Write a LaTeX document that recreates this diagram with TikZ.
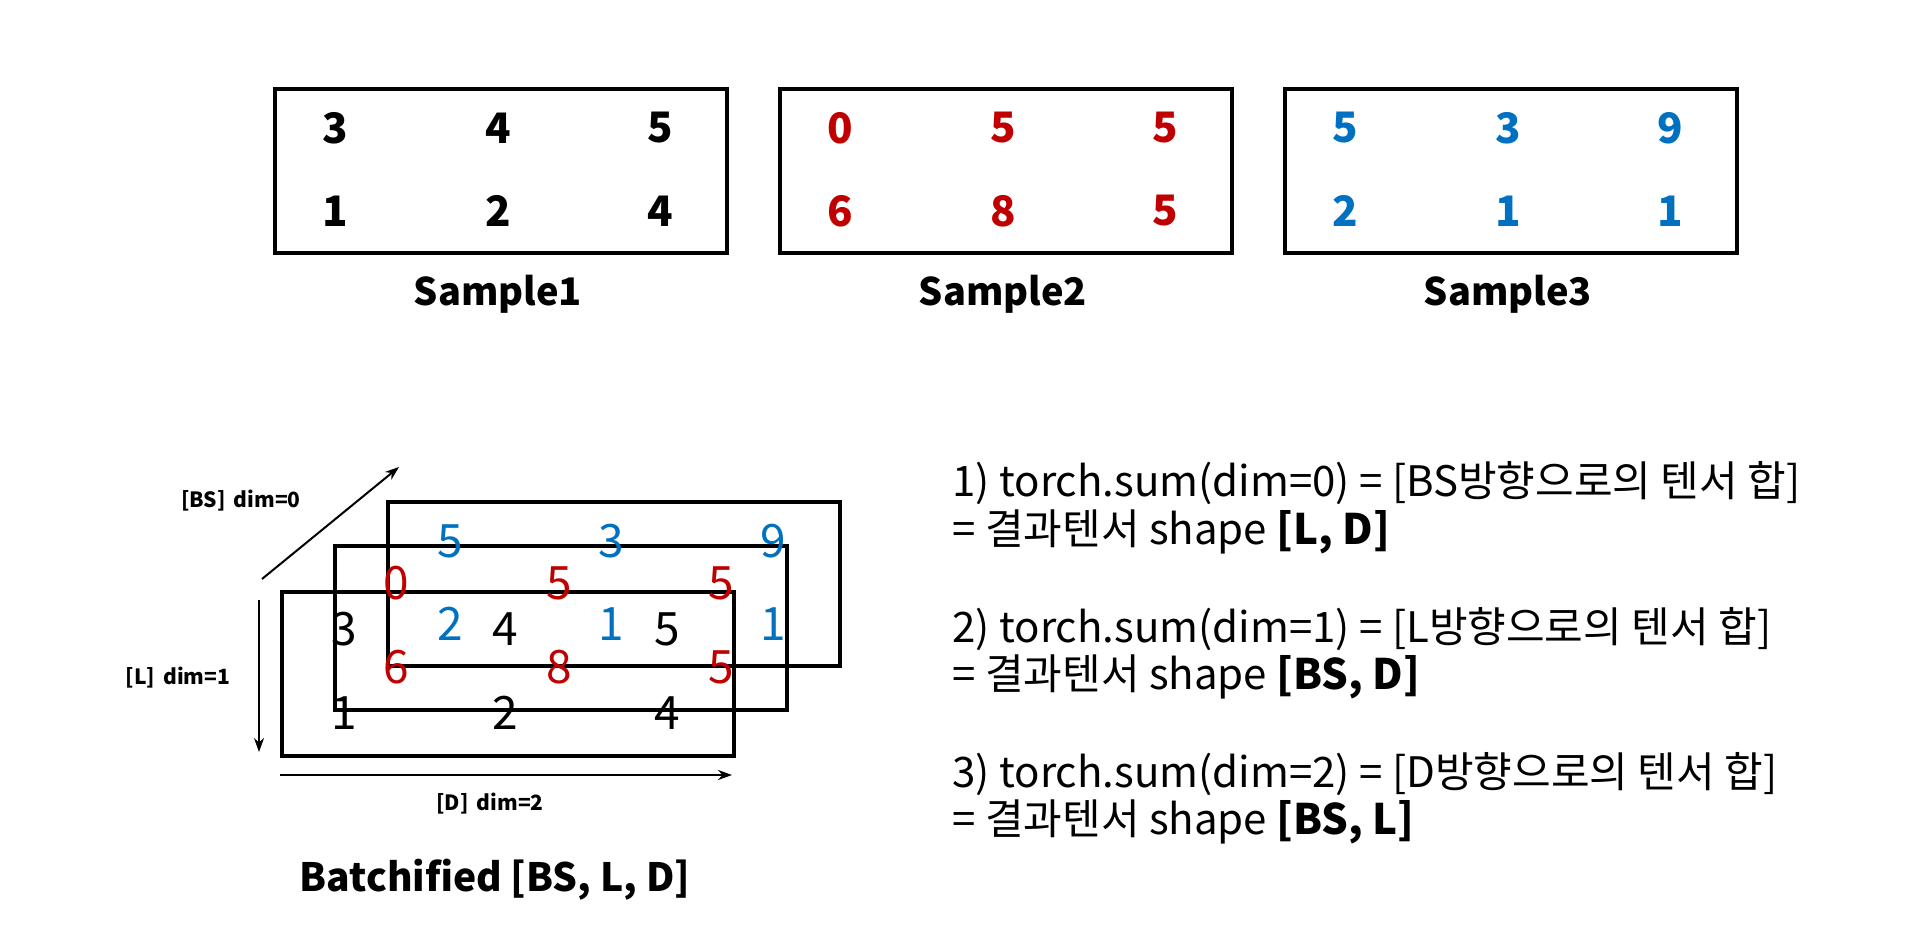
\documentclass[tikz,border=0pt]{standalone}
\usepackage{fontspec}
\setmainfont{Noto Sans CJK KR}
\usetikzlibrary{arrows.meta}
\definecolor{cred}{HTML}{C00000}
\definecolor{cblue}{HTML}{0070C0}
\begin{document}
\begin{tikzpicture}[x=0.5pt,y=-0.5pt,
  box/.style={draw,line width=2pt,inner sep=0pt},
  snum/.style={font=\fontsize{21}{24}\selectfont\bfseries},
  bnum/.style={font=\fontsize{23}{26}\selectfont},
  slabel/.style={font=\fontsize{19}{23}\selectfont\bfseries},
  axlabel/.style={font=\fontsize{10.5}{13}\selectfont\bfseries},
  axarrow/.style={line width=1pt,-{Stealth[length=7pt,width=5pt]}},
  txt/.style={anchor=west,inner sep=0pt,font=\fontsize{21}{24}\selectfont}]
\useasboundingbox (0,0) rectangle (1927,947);
% samples
\foreach \i/\x/\c/\a/\b/\cc/\d/\e/\f in {1/273/black/3/4/5/1/2/4, 2/778/cred/0/5/5/6/8/5, 3/1283/cblue/5/3/9/2/1/1}{
  \node[box,minimum width=226pt,minimum height=82pt,anchor=north west] (s\i) at (\x,87) {};
  \node[snum,text=\c] (s\i a) at (\x+62,128) {\a};
  \node[snum,text=\c] (s\i b) at (\x+225,128) {\b};
  \node[snum,text=\c] (s\i c) at (\x+387,128) {\cc};
  \node[snum,text=\c] (s\i d) at (\x+62,211) {\d};
  \node[snum,text=\c] (s\i e) at (\x+225,211) {\e};
  \node[snum,text=\c] (s\i f) at (\x+387,211) {\f};
  \node[slabel] (l\i) at (\x+225,294) {Sample\i};
}
% batched boxes
\node[box,minimum width=226pt,minimum height=82pt,anchor=north west] (bb) at (386,500) {};
\node[box,minimum width=226pt,minimum height=82pt,anchor=north west] (bm) at (333,544) {};
\node[box,minimum width=226pt,minimum height=82pt,anchor=north west] (bf) at (280,590) {};
% blue numbers
\node[bnum,text=cblue] (u1) at (450,541) {5};
\node[bnum,text=cblue] (u2) at (611,541) {3};
\node[bnum,text=cblue] (u3) at (773,541) {9};
\node[bnum,text=cblue] (u4) at (450,624) {2};
\node[bnum,text=cblue] (u5) at (611,624) {1};
\node[bnum,text=cblue] (u6) at (773,624) {1};
% red numbers
\node[bnum,text=cred] (r1) at (396,583) {0};
\node[bnum,text=cred] (r2) at (559,583) {5};
\node[bnum,text=cred] (r3) at (721,583) {5};
\node[bnum,text=cred] (r4) at (396,667) {6};
\node[bnum,text=cred] (r5) at (559,667) {8};
\node[bnum,text=cred] (r6) at (721,667) {5};
% black numbers
\node[bnum] (k1) at (344,629) {3};
\node[bnum] (k2) at (505,629) {4};
\node[bnum] (k3) at (667,629) {5};
\node[bnum] (k4) at (344,713) {1};
\node[bnum] (k5) at (505,713) {2};
\node[bnum] (k6) at (667,713) {4};
% axes
\coordinate (bs0) at (262,579);
\coordinate (bs1) at (399,467);
\coordinate (l0) at (259,600);
\coordinate (l1) at (259,752);
\coordinate (d0) at (280,775);
\coordinate (d1) at (732,775);
\draw[axarrow] (bs0) -- (bs1);
\draw[axarrow] (l0) -- (l1);
\draw[axarrow] (d0) -- (d1);
\node[axlabel] (bsl) at (241,501) {[BS]\, dim=0};
\node[axlabel] (ll) at (178,678) {[L]\, dim=1};
\node[axlabel] (dl) at (490,804) {[D]\, dim=2};
\node[slabel,font=\fontsize{19.5}{23}\selectfont\bfseries] (bl) at (495,880) {Batchified [BS, L, D]};
% right text
\node[txt] (t1) at (952,483) {1) torch.sum(dim=0) = [BS방향으로의 텐서 합]};
\node[txt] (t2) at (952,532) {= 결과텐서 shape \textbf{[L, D]}};
\node[txt] (t3) at (952,629) {2) torch.sum(dim=1) = [L방향으로의 텐서 합]};
\node[txt] (t4) at (952,677) {= 결과텐서 shape \textbf{[BS, D]}};
\node[txt] (t5) at (952,774) {3) torch.sum(dim=2) = [D방향으로의 텐서 합]};
\node[txt] (t6) at (952,822) {= 결과텐서 shape \textbf{[BS, L]}};
\end{tikzpicture}
\end{document}
